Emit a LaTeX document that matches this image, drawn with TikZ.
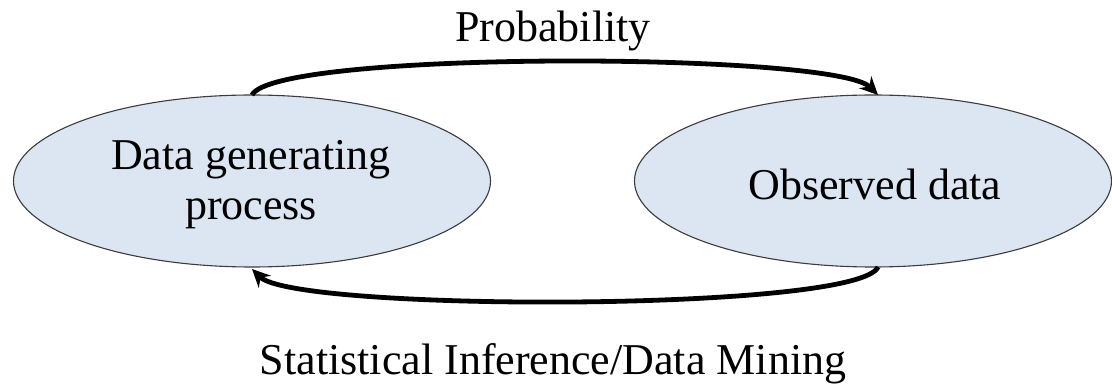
\documentclass[tikz,border=0pt]{standalone}
\usepackage{fontspec}
\setmainfont{Liberation Serif}
\usetikzlibrary{arrows.meta,shapes.geometric}
\definecolor{ellfill}{RGB}{220,230,242}
\definecolor{ellline}{RGB}{60,60,60}
\begin{document}
\begin{tikzpicture}[x=1pt,y=-1pt,
  ell/.style={draw=ellline,line width=1.1pt,fill=ellfill,ellipse,minimum width=477pt,minimum height=172pt,inner sep=0pt},
  conn/.style={line width=4.8pt,-{Stealth[length=18pt,width=17pt]}},
  txt/.style={anchor=base,inner sep=0pt,font=\fontsize{44}{50}\selectfont}]
\useasboundingbox (0,0) rectangle (1112,387);
\node[ell] (dgp) at (252,181) {};
\node[ell] (obs) at (873,181) {};
\node[txt,align=center] (dgpt) at (251,220) {Data generating\\process};
\node[txt] (obst) at (875,200) {Observed data};
\node[txt] (prob) at (553,42) {Probability};
\node[txt] (stat) at (553,375) {Statistical Inference/Data Mining};
\coordinate (a1) at (252,95);
\coordinate (a2) at (878,95);
\coordinate (b1) at (878,267);
\coordinate (b2) at (252,269);
\draw[conn] (a1) .. controls (275,50) and (835,52) .. (a2);
\draw[conn] (b1) .. controls (858,312) and (295,312) .. (b2);
\end{tikzpicture}
\end{document}
